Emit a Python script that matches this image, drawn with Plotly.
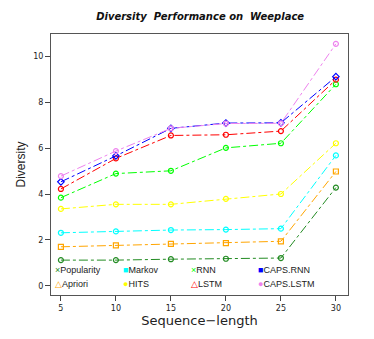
import plotly.graph_objects as go

seq_len = [5, 10, 15, 20, 25, 30]

caps_lstm = [4.78, 5.87, 6.86, 7.07, 7.08, 10.54]
caps_rnn = [4.53, 5.66, 6.86, 7.09, 7.10, 9.11]
lstm = [4.22, 5.55, 6.55, 6.58, 6.74, 8.98]
rnn = [3.84, 4.89, 5.01, 6.01, 6.21, 8.78]
hits = [3.35, 3.55, 3.55, 3.79, 4.00, 6.21]
markov = [2.31, 2.37, 2.43, 2.45, 2.49, 5.68]
apriori = [1.70, 1.76, 1.83, 1.86, 1.94, 4.98]
popularity = [1.12, 1.12, 1.16, 1.18, 1.21, 4.28]

series = [
    ("Popularity", popularity, "#228B22", "circle-open"),
    ("Apriori", apriori, "#FFA500", "square-open"),
    ("Markov", markov, "#00FFFF", "circle-open"),
    ("HITS", hits, "#FFFF00", "circle-open"),
    ("RNN", rnn, "#00FF00", "circle-open"),
    ("LSTM", lstm, "#FF0000", "circle-open"),
    ("CAPS.RNN", caps_rnn, "#0000FF", "diamond-open"),
    ("CAPS.LSTM", caps_lstm, "#EE82EE", "circle-open"),
]

# legend layout as in the original (R style key inside the plot)
legend_rows = [
    [("Popularity", "×", "#228B22"), ("Markov", "■", "#00FFFF"),
     ("RNN", "×", "#00FF00"), ("CAPS.RNN", "■", "#0000FF")],
    [("Apriori", "△", "#FFA500"), ("HITS", "●", "#FFFF00"),
     ("LSTM", "△", "#FF0000"), ("CAPS.LSTM", "●", "#EE82EE")],
]

fig = go.Figure()
for name, vals, color, symbol in series:
    fig.add_trace(go.Scatter(
        x=seq_len, y=vals, name=name, mode="lines+markers",
        line=dict(color=color, width=1, dash="dashdot"),
        marker=dict(symbol=symbol, size=5, color=color, line=dict(width=1.2, color=color)),
        showlegend=False,
    ))

col_x = [0.006, 0.235, 0.465, 0.69]
row_y = [0.095, 0.043]
for r, row in enumerate(legend_rows):
    for c, (label, sym, color) in enumerate(row):
        fig.add_annotation(
            xref="paper", yref="paper", x=col_x[c], y=row_y[r],
            xanchor="left", yanchor="middle", showarrow=False,
            text=f"<span style='color:{color}'>{sym}</span>{label}",
            font=dict(size=9, color="#222"),
        )

# page body has an 8px margin, so the figure is a bit smaller than the window
fig.update_layout(
    width=366, height=331,
    margin=dict(l=43, r=26, t=26, b=44),
    paper_bgcolor="white", plot_bgcolor="white",
    font=dict(family="Liberation Sans, Arial, sans-serif", color="#222"),
    title=dict(text="<b><i>Diversity  Performance on  Weeplace</i></b>",
               x=0.525, xanchor="center", y=0.973, yanchor="middle",
               font=dict(family="DejaVu Sans", size=10, color="#111")),
)
fig.update_xaxes(
    range=[4.1, 31.1], tickvals=seq_len, ticks="outside", ticklen=5,
    tickcolor="#444", tickfont=dict(family="DejaVu Sans", size=8), showgrid=False,
    zeroline=False, showline=True, linecolor="#555", linewidth=1, mirror=True,
    title=dict(text="Sequence−length", font=dict(family="DejaVu Sans", size=13), standoff=2),
)
fig.update_yaxes(
    range=[-0.4, 10.97], tickvals=[0, 2, 4, 6, 8, 10], ticks="outside", ticklen=5,
    tickcolor="#444", tickfont=dict(family="DejaVu Sans", size=8), showgrid=False,
    zeroline=False, showline=True, linecolor="#555", linewidth=1, mirror=True,
    title=dict(text="Diversity", font=dict(size=12), standoff=5),
)

fig.write_html("out.html")
